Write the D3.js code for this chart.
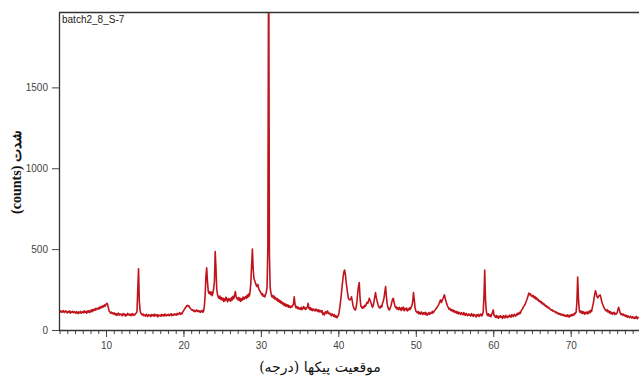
<!DOCTYPE html>
<html>
<head>
<meta charset="utf-8">
<script src="https://cdn.jsdelivr.net/npm/d3@7"></script>
<style>
  html, body { margin: 0; padding: 0; background: #fff; }
  svg { display: block; }
  .tick text { font-family: "Liberation Sans Narrow", "Liberation Sans", Arial, sans-serif; font-size: 10px; fill: #444; }
</style>
</head>
<body>
<svg id="chart" width="639" height="381"></svg>
<script>
// Scan description: first angle (2θ, degrees) and step of the diffractometer scan
const scanStart = 3.9;
const scanStep = 0.1;

// Measured counts, one row per degree (3.9, then 4.0–4.9, 5.0–5.9, …, 78.0–78.8)
const counts = [
  118,
  121,112,117,109,115,120,108,113,118,111,
  106,115,110,118,104,112,109,116,107,113,
  110,103,114,108,101,112,106,115,104,109,
  113,106,118,109,115,104,117,111,120,108,
  116,124,113,127,119,130,122,134,126,131,
  137,129,142,135,146,139,150,143,155,148,
  158,165,160,138,118,112,104,110,101,106,
  98,105,94,101,90,99,104,92,100,95,
  97,88,102,93,99,86,96,91,103,94,
  92,99,88,96,101,90,97,93,100,105,
  112,250,378,180,120,104,98,92,99,88,
  93,86,97,90,84,95,88,92,83,96,
  89,94,85,98,91,87,95,82,93,88,
  92,85,97,89,94,86,99,91,88,95,
  90,97,88,94,101,89,96,92,99,93,
  98,92,103,96,100,107,97,104,99,110,
  118,126,134,141,148,153,146,150,139,133,
  128,122,125,117,121,113,119,124,115,120,
  112,118,109,116,121,110,117,148,215,330,
  384,300,240,226,238,219,235,212,228,255,
  300,485,380,252,218,204,196,210,189,201,
  185,198,176,192,181,203,188,174,195,183,
  192,178,201,186,209,194,215,238,205,196,
  188,201,182,197,176,193,185,204,190,199,
  206,195,214,201,222,210,236,290,400,500,
  380,318,305,290,276,268,282,259,246,238,
  230,218,225,209,214,204,220,232,270,520,
  2500,460,260,228,206,214,198,210,192,201,
  186,194,178,189,172,181,166,175,160,168,
  152,163,148,158,145,155,141,150,138,147,
  142,151,158,205,162,138,146,133,141,130,
  136,128,140,126,134,145,131,139,127,135,
  142,165,134,128,139,122,131,120,129,124,
  118,130,124,115,126,112,122,117,109,120,
  96,105,93,110,113,102,118,108,99,104,
  96,88,101,92,84,95,80,88,76,82,
  90,110,144,182,228,276,322,356,371,345,
  300,262,225,196,188,186,192,205,178,150,
  138,126,124,140,175,230,270,293,200,150,
  140,134,145,138,152,147,160,171,165,180,
  196,182,170,155,140,150,175,205,231,200,
  180,160,145,138,136,150,142,165,178,200,
  235,268,210,162,140,128,124,138,150,172,
  190,196,170,150,138,143,129,137,125,140,
  132,121,138,127,142,119,133,125,136,118,
  130,124,137,128,141,150,175,231,190,140,
  118,112,106,115,101,109,98,112,104,96,
  107,99,110,95,104,92,101,108,97,103,
  110,103,115,108,119,124,131,138,145,152,
  162,176,186,170,181,193,205,217,195,178,
  160,148,139,128,134,121,126,117,124,112,
  119,108,115,104,112,99,110,103,96,107,
  101,94,108,97,90,103,95,88,99,92,
  96,86,101,93,84,97,89,92,81,95,
  88,97,84,92,99,87,94,112,200,371,
  190,118,96,89,100,86,93,82,95,110,
  124,92,85,79,90,76,86,73,81,88,
  78,84,72,88,80,75,91,83,77,86,
  81,92,85,79,95,88,83,97,90,86,
  99,93,104,97,110,103,118,126,132,144,
  150,158,170,182,196,212,229,218,224,210,
  215,205,212,198,206,192,199,185,190,178,
  182,170,175,163,168,156,160,149,152,142,
  145,136,139,130,128,122,125,117,119,112,
  114,106,110,101,105,97,102,94,99,91,
  96,88,93,85,90,83,94,87,80,92,
  86,95,89,98,92,104,101,110,170,328,
  200,124,110,118,104,115,102,112,98,108,
  103,113,100,108,117,106,121,115,140,160,
  190,222,243,226,205,199,208,214,217,200,
  178,162,150,138,129,124,118,126,112,119,
  106,114,101,109,97,105,110,96,103,99,
  108,126,140,122,104,96,101,92,98,88,
  93,84,90,79,87,82,76,85,80,74,
  82,77,71,80,74,84,70,78,75
];

// Axis ticks
const xMajorTicks = [10, 20, 30, 40, 50, 60, 70];
const xMinorTicks = d3.range(4, 79);
const yTicks = [0, 500, 1000, 1500];

// Texts
const sampleName = "batch2_8_S-7";
const xTitle = "موقعیت پیکها (درجه)";
const yTitle = "شدت (counts)";

const svg = d3.select("#chart");
const plot = { left: 59, right: 639, top: 12, bottom: 330 };

const x = d3.scaleLinear().domain([3.93, 78.82]).range([plot.left, plot.right]);
const y = d3.scaleLinear().domain([0, 1966]).range([plot.bottom, plot.top]);

const points = counts.map((c, i) => ({ angle: +(scanStart + i * scanStep).toFixed(2), count: c }));

svg.append("defs").append("clipPath").attr("id", "plotClip")
  .append("rect")
  .attr("x", plot.left).attr("y", plot.top)
  .attr("width", plot.right - plot.left).attr("height", plot.bottom - plot.top);

// Diffraction pattern
const line = d3.line().x(d => x(d.angle)).y(d => y(d.count));
svg.append("path")
  .datum(points)
  .attr("clip-path", "url(#plotClip)")
  .attr("fill", "none")
  .attr("stroke", "#c0141c")
  .attr("stroke-width", 1.6)
  .attr("stroke-linejoin", "round")
  .attr("d", line);

// Frame: top border
svg.append("line")
  .attr("x1", plot.left).attr("x2", plot.right)
  .attr("y1", plot.top + 0.5).attr("y2", plot.top + 0.5)
  .attr("stroke", "#333").attr("stroke-width", 1.3);

// X axis: minor ticks every degree, labelled majors every ten
const xAxisMinor = d3.axisBottom(x).tickValues(xMinorTicks).tickSize(4).tickFormat("");
const gxMinor = svg.append("g").attr("transform", `translate(0,${plot.bottom})`).call(xAxisMinor);
gxMinor.select(".domain").remove();
gxMinor.selectAll(".tick line").attr("stroke", "#444");

const xAxis = d3.axisBottom(x).tickValues(xMajorTicks).tickSize(7).tickPadding(5).tickFormat(d3.format("d"));
const gx = svg.append("g").attr("transform", `translate(0,${plot.bottom})`).call(xAxis);
gx.select(".domain").attr("stroke", "#333").attr("stroke-width", 1.3)
  .attr("d", `M${plot.left},0.5H${plot.right}`);
gx.selectAll(".tick line").attr("stroke", "#444");

// Y axis
const yAxis = d3.axisLeft(y).tickValues(yTicks).tickSize(7).tickPadding(4).tickFormat(d3.format("d"));
const gy = svg.append("g").attr("transform", `translate(${plot.left},0)`).call(yAxis);
gy.select(".domain").attr("stroke", "#333").attr("stroke-width", 1.3)
  .attr("d", `M0.5,${plot.top}V${plot.bottom}`);
gy.selectAll(".tick line").attr("stroke", "#444");

// Sample name inside the plot
svg.append("text")
  .attr("x", plot.left + 3).attr("y", plot.top + 11)
  .attr("font-family", "'Liberation Sans Narrow', 'Liberation Sans', Arial, sans-serif")
  .attr("font-size", 10).attr("fill", "#222")
  .text(sampleName);

// Axis titles
svg.append("text")
  .attr("x", 320).attr("y", 372)
  .attr("text-anchor", "middle")
  .attr("font-family", "'DejaVu Serif', 'DejaVu Sans', serif")
  .attr("font-size", 14).attr("fill", "#111")
  .text(xTitle);

svg.append("text")
  .attr("transform", "translate(21,172) rotate(-90)")
  .attr("text-anchor", "middle")
  .attr("direction", "rtl")
  .attr("font-family", "'Liberation Serif', 'DejaVu Serif', serif")
  .attr("font-weight", "bold")
  .attr("font-size", 14).attr("fill", "#111")
  .text(yTitle);
</script>
</body>
</html>
